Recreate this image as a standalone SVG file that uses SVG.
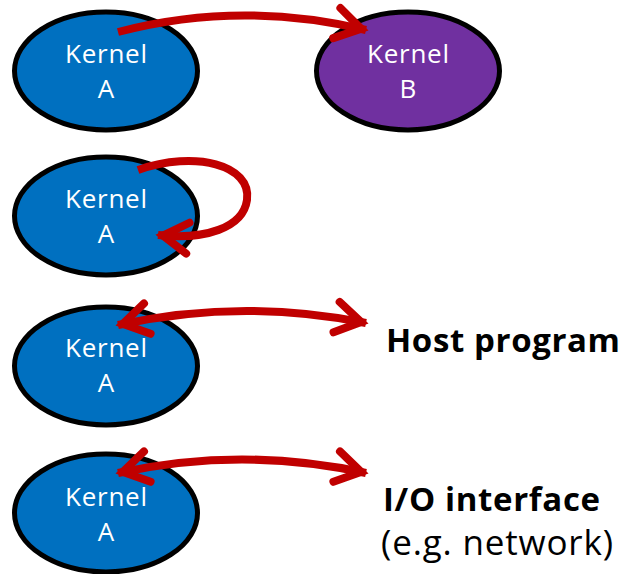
<svg xmlns="http://www.w3.org/2000/svg" width="627" height="574" viewBox="0 0 627 574">
  <style>
    .node { stroke: #000; stroke-width: 5; }
    .blue { fill: #0070C0; }
    .purple { fill: #7030A0; }
    .lbl { font-family: "Open Sans", "Noto Sans", sans-serif; font-size: 26px; fill: #fff; text-anchor: middle; }
    .side { font-family: "Open Sans", "Noto Sans", sans-serif; font-size: 33px; fill: #000; }
    .bold { font-weight: bold; }
    .note { font-size: 35px; }
    .link { fill: none; stroke: #C00000; stroke-width: 8; }
  </style>
  <defs>
    <!-- open chevron arrowhead, reversed automatically at path starts -->
    <marker id="head" markerUnits="userSpaceOnUse" orient="auto-start-reverse" viewBox="-44 -24 50 48" markerWidth="50" markerHeight="48" refX="0" refY="0">
      <path d="M-30,-15.5 L-5,0 L-30,15.5" fill="none" stroke="#C00000" stroke-width="8" stroke-linejoin="miter" stroke-linecap="round"/>
    </marker>
  </defs>

  <g id="kernel-a1">
    <ellipse class="node blue" cx="106" cy="71" rx="91.5" ry="59"/>
    <text class="lbl" x="106" y="63" textLength="82">Kernel</text>
    <text class="lbl" x="106" y="98">A</text>
  </g>
  <g id="kernel-b">
    <ellipse class="node purple" cx="408" cy="71" rx="91.5" ry="59"/>
    <text class="lbl" x="408" y="63" textLength="82">Kernel</text>
    <text class="lbl" x="408" y="98">B</text>
  </g>
  <g id="kernel-a2">
    <ellipse class="node blue" cx="106" cy="216" rx="91.5" ry="59"/>
    <text class="lbl" x="106" y="208" textLength="82">Kernel</text>
    <text class="lbl" x="106" y="243">A</text>
  </g>
  <g id="kernel-a3">
    <ellipse class="node blue" cx="106" cy="366" rx="91.5" ry="59"/>
    <text class="lbl" x="106" y="357" textLength="82">Kernel</text>
    <text class="lbl" x="106" y="392">A</text>
  </g>
  <g id="kernel-a4">
    <ellipse class="node blue" cx="106" cy="513" rx="91.5" ry="59"/>
    <text class="lbl" x="106" y="506" textLength="82">Kernel</text>
    <text class="lbl" x="106" y="541">A</text>
  </g>
  <g id="host">
    <text class="side bold" x="386" y="352" textLength="234">Host program</text>
  </g>
  <g id="io">
    <text class="side bold" x="383" y="511" textLength="217">I/O interface</text>
    <text class="side note" x="381" y="555" textLength="232">(e.g. network)</text>
  </g>

  <g id="connectors">
    <path class="link" d="M118,32 Q240,0 366,30" marker-end="url(#head)"/>
    <path class="link" d="M138,170 C195,150 252,165 247,200 C243,228 205,240 158,235" marker-end="url(#head)"/>
    <path class="link" d="M118,325 Q242,298 366,323" marker-start="url(#head)" marker-end="url(#head)"/>
    <path class="link" d="M118,473 Q242,446 366,473" marker-start="url(#head)" marker-end="url(#head)"/>
  </g>
</svg>
